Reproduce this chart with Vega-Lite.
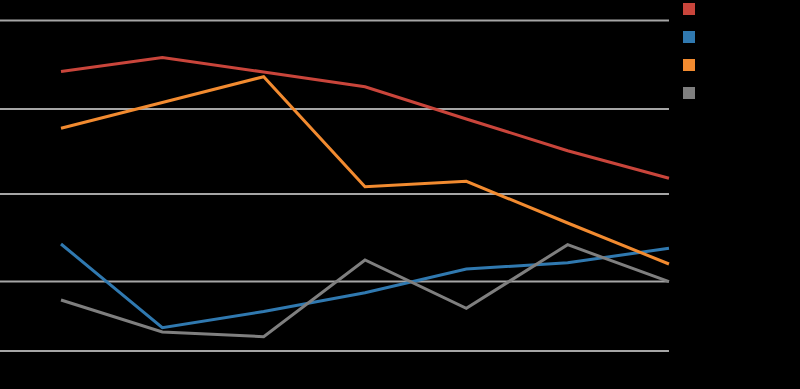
{
  "$schema": "https://vega.github.io/schema/vega-lite/v6.json",
  "width": 800,
  "height": 389,
  "autosize": "none",
  "padding": 0,
  "background": "#000000",
  "config": {"view": {"stroke": null}},
  "datasets": {
    "grid": [{"v": 368.5}, {"v": 280}, {"v": 195}, {"v": 107.5}, {"v": 38}],
    "lines": [
      {"i": 0, "s": "A", "v": 317.5}, {"i": 1, "s": "A", "v": 331.5}, {"i": 2, "s": "A", "v": 317}, {"i": 3, "s": "A", "v": 302.3}, {"i": 4, "s": "A", "v": 270}, {"i": 5, "s": "A", "v": 238.3}, {"i": 6, "s": "A", "v": 210.7},
      {"i": 0, "s": "B", "v": 145}, {"i": 1, "s": "B", "v": 61.3}, {"i": 2, "s": "B", "v": 77.5}, {"i": 3, "s": "B", "v": 96.3}, {"i": 4, "s": "B", "v": 120}, {"i": 5, "s": "B", "v": 126.3}, {"i": 6, "s": "B", "v": 140.7},
      {"i": 0, "s": "C", "v": 260.7}, {"i": 1, "s": "C", "v": 286.5}, {"i": 2, "s": "C", "v": 312.3}, {"i": 3, "s": "C", "v": 202.3}, {"i": 4, "s": "C", "v": 207.7}, {"i": 5, "s": "C", "v": 166}, {"i": 6, "s": "C", "v": 125},
      {"i": 0, "s": "D", "v": 89}, {"i": 1, "s": "D", "v": 57}, {"i": 2, "s": "D", "v": 52.3}, {"i": 3, "s": "D", "v": 129}, {"i": 4, "s": "D", "v": 80.7}, {"i": 5, "s": "D", "v": 144.3}, {"i": 6, "s": "D", "v": 107.3}
    ]
  },
  "layer": [
    {
      "data": {"name": "grid"},
      "mark": {"type": "rule", "color": "#a6a6a6", "strokeWidth": 2},
      "encoding": {
        "x": {"datum": -0.602, "type": "quantitative", "scale": {"domain": [-0.602, 7.293], "nice": false, "zero": false}, "axis": null},
        "x2": {"datum": 6},
        "y": {"field": "v", "type": "quantitative", "scale": {"domain": [0, 389], "nice": false, "zero": false}, "axis": null}
      }
    },
    {
      "data": {"name": "lines"},
      "mark": {"type": "line", "strokeWidth": 3, "strokeJoin": "miter"},
      "encoding": {
        "x": {"field": "i", "type": "quantitative", "scale": {"domain": [-0.602, 7.293], "nice": false, "zero": false}, "axis": null},
        "y": {"field": "v", "type": "quantitative", "scale": {"domain": [0, 389], "nice": false, "zero": false}, "axis": null},
        "color": {
          "field": "s", "type": "nominal",
          "scale": {"domain": ["A", "B", "C", "D"], "range": ["#c9453b", "#3079b0", "#f28b30", "#7f7f7f"]},
          "legend": {
            "orient": "none", "legendX": 683, "legendY": 3,
            "title": null, "symbolType": "square", "symbolSize": 36,
            "symbolStrokeWidth": 6, "symbolOpacity": 1,
            "labelExpr": "''", "labelFontSize": 12, "rowPadding": -2, "padding": 0
          }
        }
      }
    }
  ]
}
